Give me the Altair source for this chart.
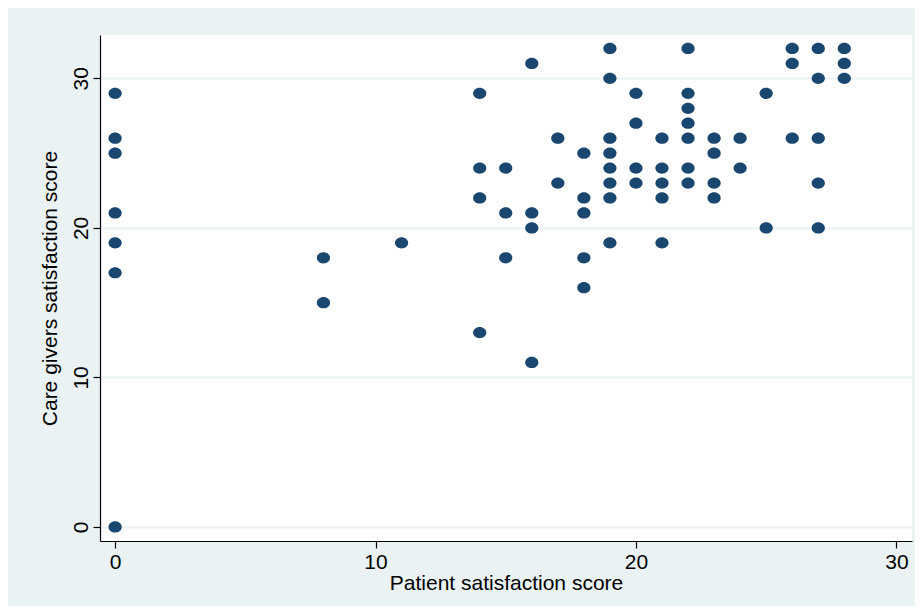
import altair as alt
import pandas as pd

# Patient satisfaction score (x) -> list of care givers satisfaction scores (y)
x0 = [0, 0, 0, 0, 0, 0, 0]
y0 = [29, 26, 25, 21, 19, 17, 0]
x8 = [8, 8]
y8 = [18, 15]
x11 = [11]
y11 = [19]
x14 = [14, 14, 14, 14]
y14 = [29, 24, 22, 13]
x15 = [15, 15, 15]
y15 = [24, 21, 18]
x16 = [16, 16, 16, 16]
y16 = [31, 21, 20, 11]
x17 = [17, 17]
y17 = [26, 23]
x18 = [18, 18, 18, 18, 18]
y18 = [25, 22, 21, 18, 16]
x19 = [19, 19, 19, 19, 19, 19, 19, 19]
y19 = [32, 30, 26, 25, 24, 23, 22, 19]
x20 = [20, 20, 20, 20]
y20 = [29, 27, 24, 23]
x21 = [21, 21, 21, 21, 21]
y21 = [26, 24, 23, 22, 19]
x22 = [22, 22, 22, 22, 22, 22, 22]
y22 = [32, 29, 28, 27, 26, 24, 23]
x23 = [23, 23, 23, 23]
y23 = [26, 25, 23, 22]
x24 = [24, 24]
y24 = [26, 24]
x25 = [25, 25]
y25 = [29, 20]
x26 = [26, 26, 26]
y26 = [32, 31, 26]
x27 = [27, 27, 27, 27, 27]
y27 = [32, 30, 26, 23, 20]
x28 = [28, 28, 28]
y28 = [32, 31, 30]

xs = x0 + x8 + x11 + x14 + x15 + x16 + x17 + x18 + x19 + x20 + x21 + x22 + x23 + x24 + x25 + x26 + x27 + x28
ys = y0 + y8 + y11 + y14 + y15 + y16 + y17 + y18 + y19 + y20 + y21 + y22 + y23 + y24 + y25 + y26 + y27 + y28

df = pd.DataFrame({"patient": xs, "care": ys})

FONT = "Liberation Sans, Arial"
ELLIPSE = "M-1,0 A1,0.85 0 1,1 1,0 A1,0.85 0 1,1 -1,0 Z"

chart = alt.Chart(df).mark_point(
    shape=ELLIPSE, filled=True, color="#1a476f", opacity=1, size=175
).encode(
    x=alt.X("patient:Q", title="Patient satisfaction score",
            scale=alt.Scale(domain=[-0.58, 30.6], nice=False, zero=False),
            axis=alt.Axis(values=[0, 10, 20, 30], grid=False, tickSize=7,
                          labelPadding=3, titlePadding=0)),
    y=alt.Y("care:Q", title="Care givers satisfaction score",
            scale=alt.Scale(domain=[-0.94, 32.9], nice=False, zero=False),
            axis=alt.Axis(values=[0, 10, 20, 30], grid=True, tickSize=7,
                          labelAngle=270, labelAlign="center", labelBaseline="bottom",
                          labelPadding=2, titlePadding=10)),
).properties(
    width=812, height=506,
    autosize=alt.AutoSizeParams(type="none"),
    padding={"left": 92, "top": 27, "right": 3, "bottom": 65},
    background="#eaf2f3",
).configure_view(
    fill="white", stroke=None
).configure_axis(
    domainColor="black", domainWidth=1.2, tickColor="black", tickWidth=1.2,
    gridColor="#eaf2f3", gridWidth=2,
    labelFont=FONT, titleFont=FONT, labelFontSize=21, titleFontSize=21,
    labelColor="black", titleColor="black", titleFontWeight="normal",
)

chart.save("out.html", embed_options={"renderer": "svg", "actions": False})
